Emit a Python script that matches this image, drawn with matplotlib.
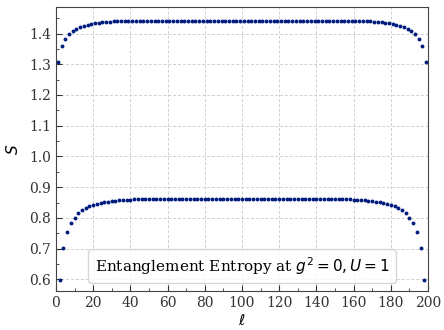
import matplotlib
matplotlib.use("Agg")
import matplotlib.pyplot as plt
from matplotlib.lines import Line2D
from matplotlib.ticker import MultipleLocator

# subsystem sizes, odd ones sit on the upper branch, even ones on the lower
ell_odd = list(range(1, 200, 2))
ell_even = list(range(2, 199, 2))

S_odd = [
    1.3075, 1.360, 1.382, 1.398, 1.4075, 1.415, 1.4215, 1.426, 1.429, 1.431,
    1.4335, 1.4355, 1.437, 1.438, 1.4388, 1.4395, 1.440, 1.4405, 1.441, 1.4413,
    1.4415, 1.4417, 1.4419, 1.442, 1.442, 1.442, 1.442, 1.442, 1.442, 1.442,
    1.442, 1.442, 1.442, 1.442, 1.442, 1.442, 1.442, 1.442, 1.442, 1.442,
    1.442, 1.442, 1.442, 1.442, 1.442, 1.442, 1.442, 1.442, 1.442, 1.442,
    1.442, 1.442, 1.442, 1.442, 1.442, 1.442, 1.442, 1.442, 1.442, 1.442,
    1.442, 1.442, 1.442, 1.442, 1.442, 1.442, 1.442, 1.442, 1.442, 1.442,
    1.442, 1.442, 1.442, 1.442, 1.442, 1.442, 1.442, 1.4419, 1.4417, 1.4415,
    1.4413, 1.441, 1.4405, 1.440, 1.4395, 1.4388, 1.438, 1.437, 1.4355, 1.4335,
    1.431, 1.429, 1.426, 1.4215, 1.415, 1.4075, 1.398, 1.382, 1.360, 1.3075,
]

S_even = [
    0.598, 0.701, 0.753, 0.782, 0.801, 0.815, 0.825, 0.832, 0.838, 0.842,
    0.845, 0.849, 0.851, 0.853, 0.854, 0.856, 0.857, 0.858, 0.8588, 0.8595,
    0.860, 0.8605, 0.861, 0.8613, 0.8615, 0.8617, 0.8619, 0.862, 0.862, 0.862,
    0.862, 0.862, 0.862, 0.862, 0.862, 0.862, 0.862, 0.862, 0.862, 0.862,
    0.862, 0.862, 0.862, 0.862, 0.862, 0.862, 0.862, 0.862, 0.862, 0.862,
    0.862, 0.862, 0.862, 0.862, 0.862, 0.862, 0.862, 0.862, 0.862, 0.862,
    0.862, 0.862, 0.862, 0.862, 0.862, 0.862, 0.862, 0.862, 0.862,
    0.862, 0.862, 0.862, 0.8619, 0.8617, 0.8615, 0.8613, 0.861, 0.8605, 0.860,
    0.8595, 0.8588, 0.858, 0.857, 0.856, 0.854, 0.853, 0.851, 0.849, 0.845,
    0.842, 0.838, 0.832, 0.825, 0.815, 0.801, 0.782, 0.753, 0.701, 0.598,
]

plt.rcParams['font.family'] = 'DejaVu Serif'
plt.rcParams['mathtext.fontset'] = 'dejavusans'

fig, ax = plt.subplots(figsize=(4.44, 3.30), dpi=100)
fig.subplots_adjust(left=0.126, right=0.964, top=0.978, bottom=0.118)

ax.plot(ell_odd, S_odd, 'o', ms=2.8, color='#001c7f', mew=0)
ax.plot(ell_even, S_even, 'o', ms=2.8, color='#001c7f', mew=0)

ax.set_xlim(0, 200)
ax.set_ylim(0.562, 1.4855)
ax.xaxis.set_major_locator(MultipleLocator(20))
ax.xaxis.set_minor_locator(MultipleLocator(10))
ax.yaxis.set_major_locator(MultipleLocator(0.1))
ax.yaxis.set_minor_locator(MultipleLocator(0.05))
ax.tick_params(which='both', direction='in', labelsize=10, colors='#333333',
               labelcolor='#333333')
ax.tick_params(which='major', length=4)
ax.tick_params(which='minor', length=2.5)

ax.grid(True, ls=(0, (3, 2)), color='#d0d0d0', lw=0.7)
for sp in ax.spines.values():
    sp.set_color('#444444')

ax.set_xlabel(r'$\ell$', fontsize=11, labelpad=2)
ax.set_ylabel(r'$S$', fontsize=11, labelpad=6)

ax.legend(handles=[Line2D([], [], ls='none')],
          labels=[r'Entanglement Entropy at $g^2=0, U=1$'],
          loc='lower center', handlelength=0, handletextpad=0,
          fontsize=11, framealpha=0.8, edgecolor='#cccccc')

fig.savefig('out.png', dpi=100)
